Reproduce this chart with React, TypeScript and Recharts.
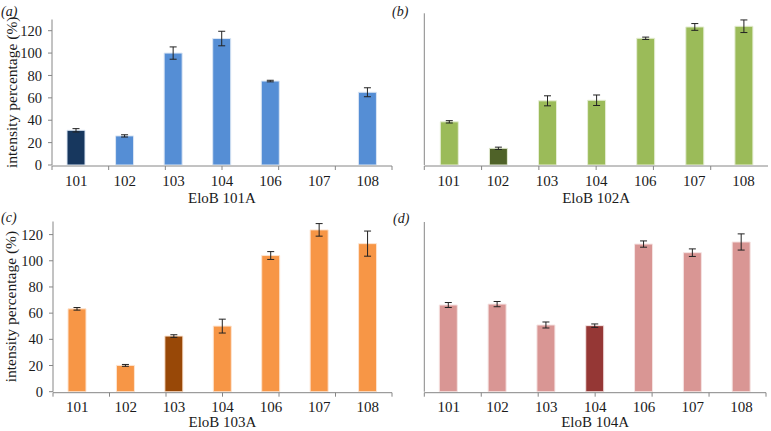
import React from 'react';
import { BarChart, Bar, XAxis, YAxis, ErrorBar, Cell } from 'recharts';

const categories = ['101', '102', '103', '104', '106', '107', '108'];
const yTicks = [0, 20, 40, 60, 80, 100, 120];
const boundaryTicks = [0, 1, 2, 3, 4, 5, 6, 7];

const valuesA = [31, 26, 100, 113, 75, null, 65];
const errorsA = [1.5, 1, 5.5, 6.5, 0.7, null, 4];
const valuesB = [37, 14.3, 55, 55.5, 108.6, 118.3, 118.9];
const errorsB = [1, 1, 4.3, 4.5, 1, 2.9, 5.4];
const valuesC = [63.3, 20.1, 42.5, 50.1, 104, 123.6, 113.1];
const errorsC = [1, 0.7, 1, 5.3, 3, 4.8, 9.6];
const valuesD = [66.4, 67.1, 51.1, 50.6, 113.1, 106.5, 114.7];
const errorsD = [1.9, 2, 2.3, 1.3, 2.4, 2.9, 6.2];

const FONT = '"Liberation Serif", "Times New Roman", serif';
const AXIS = '#868686';
const TEXT = '#1a1a1a';

type PanelProps = {
  values: (number | null)[];
  errors: (number | null)[];
  highlight: string;
  base: string;
  dark: string;
  halo: string;
  title: string;
  left: number;
  top: number;
  width: number;
  height: number;
  margin: { top: number; right: number; bottom: number; left: number };
  yWidth: number;
  labelled: boolean;
  titleOffset: number;
};

function Panel(p: PanelProps) {
  const data = categories.map((c, i) => ({ name: c, value: p.values[i], err: p.errors[i] }));
  return (
    <div style={{ position: 'absolute', left: p.left, top: p.top }}>
      <BarChart width={p.width} height={p.height} data={data} margin={p.margin}>
        <XAxis
          xAxisId="n"
          type="number"
          domain={[0, 7]}
          ticks={boundaryTicks}
          allowDataOverflow
          tickFormatter={() => ''}
          tickSize={4}
          height={1}
          axisLine={{ stroke: AXIS }}
          tickLine={{ stroke: AXIS }}
        />
        <XAxis
          xAxisId="c"
          dataKey="name"
          type="category"
          height={1}
          axisLine={false}
          tickLine={false}
          tickSize={0}
          tickMargin={10}
          tick={{ fontSize: 15, fill: TEXT, fontFamily: FONT }}
          label={{ value: p.title, position: 'bottom', offset: p.titleOffset, style: { fontSize: 15, fill: TEXT, fontFamily: FONT } }}
        />
        <YAxis
          domain={[0, 130]}
          ticks={yTicks}
          allowDataOverflow
          width={p.yWidth}
          tickSize={4}
          tickMargin={6}
          axisLine={{ stroke: AXIS }}
          tickLine={{ stroke: AXIS }}
          tick={p.labelled ? { fontSize: 14.5, fill: TEXT, fontFamily: FONT } : false}
          label={
            p.labelled
              ? {
                  value: 'intensity percentage (%)',
                  angle: -90,
                  position: 'insideLeft',
                  offset: 11,
                  style: { textAnchor: 'middle', fontSize: 15.5, fill: TEXT, fontFamily: FONT },
                }
              : undefined
          }
        />
        <Bar xAxisId="c" dataKey="value" barSize={18} stroke={p.halo} strokeWidth={1} isAnimationActive={false}>
          {data.map((d) => (
            <Cell key={d.name} fill={d.name === p.highlight ? p.dark : p.base} />
          ))}
          <ErrorBar dataKey="err" width={3.5} stroke="#222" strokeWidth={1} direction="y" />
        </Bar>
      </BarChart>
    </div>
  );
}

const letterStyle: React.CSSProperties = {
  position: 'absolute',
  fontFamily: FONT,
  fontStyle: 'italic',
  fontSize: 14,
  color: TEXT,
  lineHeight: '14px',
};

export default function App() {
  return (
    <div style={{ position: 'absolute', left: 0, top: 0, width: 771, height: 431, background: '#fff', overflow: 'hidden' }}>
      <Panel
        values={valuesA}
        errors={errorsA}
        highlight="101"
        base="#558ED5"
        dark="#17375E"
        halo="#dbe6f4"
        title="EloB 101A"
        left={0}
        top={0}
        width={400}
        height={215}
        margin={{ top: 19.5, right: 8, bottom: 48, left: 0 }}
        yWidth={52}
        labelled
        titleOffset={26}
      />
      <Panel
        values={valuesB}
        errors={errorsB}
        highlight="102"
        base="#9BBB59"
        dark="#4F6228"
        halo="#e6eed5"
        title="EloB 102A"
        left={385}
        top={0}
        width={386}
        height={215}
        margin={{ top: 13.3, right: 3, bottom: 48, left: 0 }}
        yWidth={39.3}
        labelled={false}
        titleOffset={26}
      />
      <Panel
        values={valuesC}
        errors={errorsC}
        highlight="103"
        base="#F79646"
        dark="#984807"
        halo="#fde4d0"
        title="EloB 103A"
        left={0}
        top={215}
        width={400}
        height={216}
        margin={{ top: 6.5, right: 8, bottom: 37.3, left: 0 }}
        yWidth={53}
        labelled
        titleOffset={24}
      />
      <Panel
        values={valuesD}
        errors={errorsD}
        highlight="104"
        base="#D99694"
        dark="#953735"
        halo="#f5e3e2"
        title="EloB 104A"
        left={385}
        top={215}
        width={386}
        height={216}
        margin={{ top: 7, right: 5, bottom: 37.3, left: 0 }}
        yWidth={39.3}
        labelled={false}
        titleOffset={24}
      />
      <div style={{ ...letterStyle, left: 1, top: 5 }}>(a)</div>
      <div style={{ ...letterStyle, left: 392, top: 5 }}>(b)</div>
      <div style={{ ...letterStyle, left: 1, top: 211 }}>(c)</div>
      <div style={{ ...letterStyle, left: 393, top: 212 }}>(d)</div>
    </div>
  );
}
